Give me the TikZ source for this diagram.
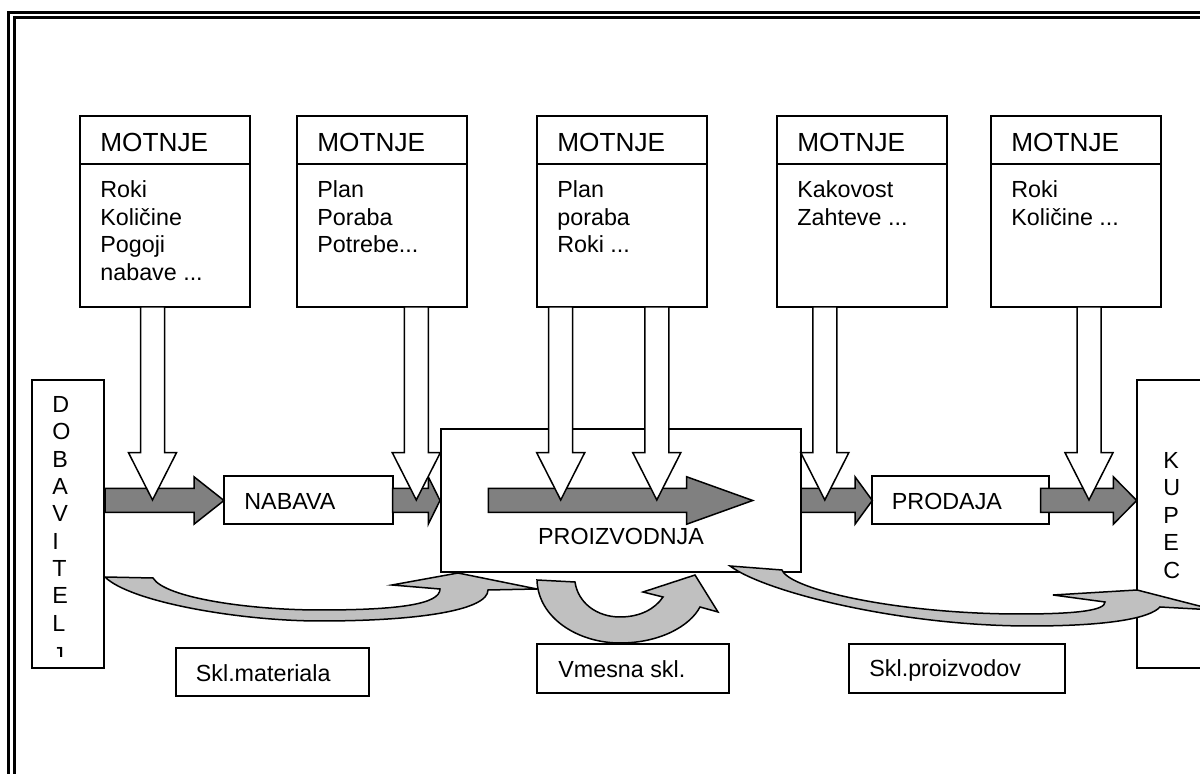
\documentclass[tikz,border=0pt]{standalone}
\usepackage{fontspec}
\setmainfont{Liberation Sans}
\definecolor{flowgray}{HTML}{808080}
\definecolor{curvegray}{HTML}{C0C0C0}
\newcommand{\flowarrow}[4]{% x start, x head start, x tip, y centre
  \filldraw[flow] (#1,#4-12) -- (#2,#4-12) -- (#2,#4-23.7) -- (#3,#4) -- (#2,#4+23.7) -- (#2,#4+12) -- (#1,#4+12) -- cycle;}
\newcommand{\dropArrow}[4]{% x centre, y top, y head start, y tip
  \filldraw[down] (#1-12,#2) -- (#1-12,#3) -- (#1-24,#3) -- (#1,#4) -- (#1+24,#3) -- (#1+12,#3) -- (#1+12,#2) -- cycle;}
\begin{document}
\begin{tikzpicture}[x=0.5pt,y=-0.5pt,
  box/.style={draw=black, line width=1pt, fill=white, inner sep=0pt, outer sep=0pt, anchor=north west},
  txt/.style={inner sep=0pt, font=\fontsize{11.65}{13.75}\selectfont},
  ttl/.style={inner sep=0pt, font=\fontsize{13.1}{15}\selectfont, anchor=base west},
  flow/.style={fill=flowgray, draw=black, line width=0.75pt, line join=miter},
  down/.style={fill=white, draw=black, line width=0.75pt, line join=miter},
  curved/.style={fill=curvegray, draw=black, line width=0.75pt, line join=miter},
  frame/.style={draw=black, line width=1.3pt}]
\useasboundingbox (0,0) rectangle (1200,774);
\clip (0,0) rectangle (1200,774);
% double frame
\draw[frame] (8.5,12.5) rectangle (1215,790);
\draw[frame] (14.5,17.5) rectangle (1209,784);

% MOTNJE boxes
\foreach \n/\x/\body in {1/80/{Roki\\Količine\\Pogoji\\nabave ...},
                         2/297/{Plan\\Poraba\\Potrebe...},
                         3/537/{Plan\\poraba\\Roki ...},
                         4/777/{Kakovost\\Zahteve ...},
                         5/991/{Roki\\Količine ...}}{
  \node[box, minimum width=85pt, minimum height=95.5pt] (m\n) at (\x,116) {};
  \draw[line width=1pt] ([yshift=-24pt]m\n.north west) -- ([yshift=-24pt]m\n.north east);
  \node[ttl] (mt\n) at (\x+20,152) {MOTNJE};
  \node[txt, align=left, anchor=north west] (mb\n) at (\x+20,180.3) {\body};
}

% side boxes
\node[box, minimum width=36pt, minimum height=144pt] (dob) at (32,380) {};
\node[inner sep=0pt, align=left, anchor=north west, font=\fontsize{11.65}{13.675}\selectfont] (dobt) at (52,396) {D\\O\\B\\A\\V\\I\\T\\E\\L};
\begin{scope}
  \clip (33,381) rectangle (104,657);
  \node[txt, anchor=base west] (dobj) at (52,664) {J};
\end{scope}
\node[box, minimum width=36.5pt, minimum height=144pt] (kup) at (1137,380) {};
\node[inner sep=0pt, align=left, anchor=north west, font=\fontsize{11.65}{13.8}\selectfont] (kupt) at (1163,451.6) {K\\U\\P\\E\\C};

% process boxes
\node[box, minimum width=84.2pt, minimum height=24.15pt] (nab) at (224.3,476) {};
\node[txt, anchor=base west] (nabt) at (244,510) {NABAVA};
\node[box, minimum width=88.35pt, minimum height=24.15pt] (pro) at (872.3,476) {};
\node[txt, anchor=base west] (prot) at (891.5,510) {PRODAJA};
\node[box, minimum width=180pt, minimum height=71.5pt] (pz) at (441,429) {};
\node[txt, anchor=base] (pzt) at (621,544.3) {PROIZVODNJA};

% grey flow arrows
\flowarrow{105}{194}{224}{500.5}
\flowarrow{392.7}{428.3}{440}{500.5}
\flowarrow{488.3}{686.7}{752.7}{500.5}
\flowarrow{801}{855}{872.3}{500.5}
\flowarrow{1040.7}{1113.3}{1136.7}{500.5}

% white disturbance arrows
\dropArrow{152.5}{307}{452.7}{500}
\dropArrow{416.3}{307}{452.7}{500}
\dropArrow{560.7}{307}{452.7}{500}
\dropArrow{656.8}{307}{452.7}{500}
\dropArrow{824.8}{307}{452.7}{500}
\dropArrow{1089}{307}{452.7}{500}

% curved stock arrows
\filldraw[curved] (105,577) .. controls (130,602) and (240,621) .. (320,621)
  .. controls (420,621) and (488,610) .. (488,590) -- (537,589) -- (458,573) -- (392,585) -- (440,589)
  .. controls (440,604) and (400,610) .. (320,610) .. controls (250,610) and (165,598) .. (153,578) -- cycle;
\filldraw[curved] (537,580) .. controls (538,618) and (578,643) .. (620,643)
  .. controls (660,643) and (690,626) .. (700,607) -- (718,612) -- (695,575) -- (643,592) -- (663,597)
  .. controls (655,609) and (640,617) .. (620,617) .. controls (597,617) and (578,603) .. (575,582) -- cycle;
\filldraw[curved] (730,566) .. controls (765,592) and (900,626) .. (1030,626)
  .. controls (1110,626) and (1150,618) .. (1160,607) -- (1215,610) -- (1137,590) -- (1053,595) -- (1105,602)
  .. controls (1105,610) and (1080,614) .. (1020,614) .. controls (900,614) and (790,590) .. (782,570) -- cycle;

% stock labels
\node[box, minimum width=96.5pt, minimum height=24pt] (s1) at (176,648) {};
\node[txt, anchor=base west] (s1t) at (195.5,682) {Skl.materiala};
\node[box, minimum width=96pt, minimum height=24.5pt] (s2) at (537,644) {};
\node[txt, anchor=base west] (s2t) at (558,677.3) {Vmesna skl.};
\node[box, minimum width=108pt, minimum height=24.5pt] (s3) at (849,644) {};
\node[txt, anchor=base west] (s3t) at (869,677) {Skl.proizvodov};
\end{tikzpicture}
\end{document}
